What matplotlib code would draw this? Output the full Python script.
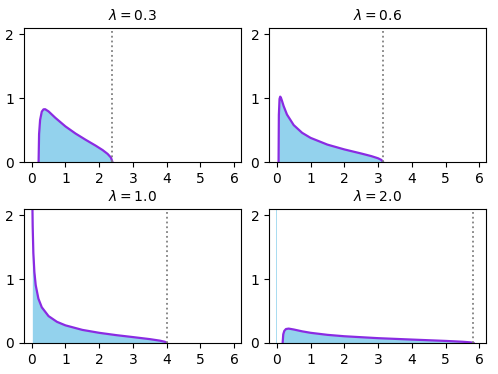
import matplotlib
matplotlib.use("Agg")
import matplotlib.pyplot as plt

# values
lambdas = [0.3, 0.6, 1.0, 2.0]
edges = [2.395, 3.149, 4.0, 5.828]

x_03 = [0.205, 0.22, 0.25, 0.3, 0.35, 0.4, 0.5, 0.7, 1.0, 1.3, 1.6, 1.9, 2.1, 2.25, 2.35, 2.395]
y_03 = [0.0, 0.44, 0.66, 0.79, 0.826, 0.828, 0.794, 0.694, 0.559, 0.447, 0.349, 0.256, 0.189, 0.128, 0.070, 0.0]

x_06 = [0.051, 0.06, 0.08, 0.1, 0.12, 0.15, 0.2, 0.3, 0.5, 0.75, 1.0, 1.5, 2.0, 2.5, 2.8, 3.0, 3.1, 3.149]
y_06 = [0.0, 0.737, 0.989, 1.025, 1.01, 0.964, 0.879, 0.745, 0.579, 0.458, 0.379, 0.273, 0.198, 0.134, 0.093, 0.059, 0.033, 0.0]

x_10 = [0.02, 0.03, 0.05, 0.08, 0.12, 0.2, 0.3, 0.5, 0.75, 1.0, 1.5, 2.0, 2.5, 3.0, 3.5, 3.8, 3.95, 4.0]
y_10 = [2.25, 1.83, 1.41, 1.114, 0.905, 0.694, 0.559, 0.421, 0.331, 0.276, 0.205, 0.159, 0.123, 0.092, 0.060, 0.036, 0.018, 0.0]

x_20 = [0.172, 0.19, 0.22, 0.27, 0.35, 0.5, 0.75, 1.0, 1.5, 2.0, 3.0, 4.0, 5.0, 5.5, 5.75, 5.828]
y_20 = [0.0, 0.135, 0.188, 0.218, 0.225, 0.211, 0.182, 0.159, 0.127, 0.105, 0.075, 0.053, 0.032, 0.019, 0.009, 0.0]

curves_x = [x_03, x_06, x_10, x_20]
curves_y = [y_03, y_06, y_10, y_20]

# point mass at zero (lambda = 2)
zero_mass_height = 10.0

fig, axes = plt.subplots(2, 2, figsize=(4.98, 3.74), dpi=100)
plt.subplots_adjust(left=0.048, right=0.976, top=0.925, bottom=0.083, wspace=0.13, hspace=0.35)

for ax, lam, b, xs, ys in zip(axes.flat, lambdas, edges, curves_x, curves_y):
    ax.fill_between(xs, 0, ys, color="skyblue", alpha=0.9, linewidth=0)
    if lam > 1:
        ax.bar([0.0], [zero_mass_height], width=0.03, color="skyblue", alpha=0.7, linewidth=0)
    ax.plot(xs, ys, color="blueviolet", lw=1.6)
    ax.axvline(b, color="gray", linestyle=":", lw=1.3)
    ax.set_title(r"$\lambda = {}$".format(lam), fontsize=10)
    ax.set_xlim(-0.23, 6.2)
    ax.set_ylim(0, 2.1)
    ax.set_xticks(range(7))
    ax.set_yticks([0, 1, 2])

plt.savefig("out.png")
